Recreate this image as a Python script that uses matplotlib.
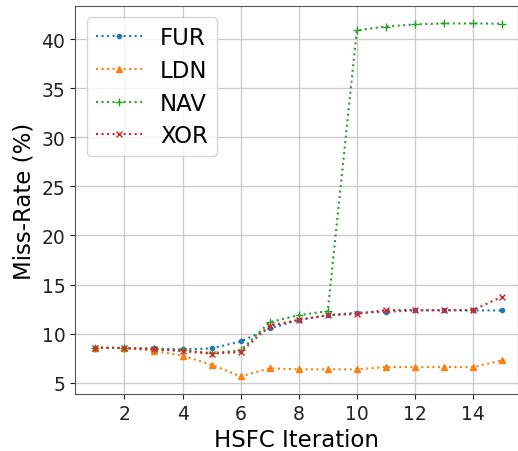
import matplotlib.pyplot as plt

iterations = list(range(1, 16))
fur = [8.56, 8.53, 8.49, 8.39, 8.49, 9.2, 10.52, 11.4, 11.88, 12.12, 12.22, 12.36, 12.36, 12.36, 12.36]
ldn = [8.56, 8.53, 8.26, 7.75, 6.83, 5.64, 6.46, 6.36, 6.36, 6.36, 6.59, 6.59, 6.59, 6.59, 7.27]
nav = [8.56, 8.53, 8.4, 8.29, 8.02, 8.29, 11.17, 11.88, 12.29, 40.9, 41.28, 41.5, 41.6, 41.6, 41.57]
xor = [8.56, 8.53, 8.42, 8.22, 7.95, 8.12, 10.8, 11.4, 11.88, 12.0, 12.4, 12.4, 12.4, 12.4, 13.75]
xticks = [2, 4, 6, 8, 10, 12, 14]

fig = plt.figure(figsize=(5.18, 4.52), dpi=100)
ax = fig.add_axes([0.145, 0.126, 0.855, 0.859])

ax.plot(iterations, fur, linestyle=":", marker=".", color="C0", label="FUR")
ax.plot(iterations, ldn, linestyle=":", marker="^", color="C1", markersize=5, label="LDN")
ax.plot(iterations, nav, linestyle=":", marker="+", color="C2", label="NAV")
ax.plot(iterations, xor, linestyle=":", marker="x", color="C3", markersize=5, label="XOR")

ax.set_xlim(0.3, 15.55)
ax.set_xticks(xticks)
ax.grid(True, color="#cccccc", linewidth=1)
ax.set_axisbelow(True)
for s in ax.spines.values():
    s.set_color("#555555")
ax.tick_params(labelsize=13.5, colors="#222222")
ax.set_xlabel("HSFC Iteration", fontsize=16.5)
ax.set_ylabel("Miss-Rate (%)", fontsize=16.5)
ax.legend(fontsize=16.5, loc="upper left", labelspacing=0.42)

fig.savefig("out.png", dpi=100)
